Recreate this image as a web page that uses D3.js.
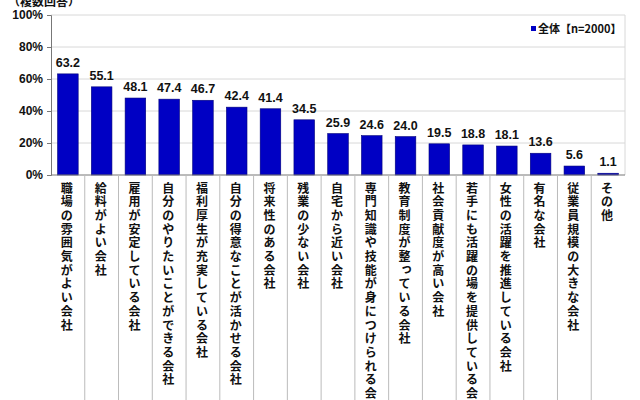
<!DOCTYPE html>
<html lang="ja">
<head>
<meta charset="UTF-8">
<script src="https://cdn.jsdelivr.net/npm/d3@7"></script>
<style>
    body { margin: 0; background: #fff; }
    text { font-family: "Liberation Sans", Arial, sans-serif; font-weight: bold; fill: #111; }
    .jp { font-family: "Noto Sans CJK JP", sans-serif; }
</style>
</head>
<body>
<svg id="chart" width="640" height="400"></svg>
<script>
    // data
    const categories = [
        "職場の雰囲気がよい会社", "給料がよい会社", "雇用が安定している会社",
        "自分のやりたいことができる会社", "福利厚生が充実している会社",
        "自分の得意なことが活かせる会社", "将来性のある会社", "残業の少ない会社",
        "自宅から近い会社", "専門知識や技能が身につけられる会社", "教育制度が整っている会社",
        "社会貢献度が高い会社", "若手にも活躍の場を提供している会社",
        "女性の活躍を推進している会社", "有名な会社", "従業員規模の大きな会社", "その他"
    ];
    const values = [63.2, 55.1, 48.1, 47.4, 46.7, 42.4, 41.4, 34.5, 25.9, 24.6, 24.0, 19.5, 18.8, 18.1, 13.6, 5.6, 1.1];
    const yTicks = [0, 20, 40, 60, 80, 100];
    const seriesName = "全体【n=2000】";

    const plotLeft = 51, plotRight = 625, plotTop = 15, plotBottom = 175;
    const charStep = 13.7;   // vertical spacing of label characters
    const svg = d3.select("#chart");

    const x = d3.scaleBand().domain(categories).range([plotLeft, plotRight]).paddingInner(0.39).paddingOuter(0.195);
    const xb = d3.scaleBand().domain(categories).range([plotLeft, plotRight]);
    const y = d3.scaleLinear().domain([0, 100]).range([plotBottom, plotTop]);

    // title (cut off at top like the original)
    svg.append("text").attr("class", "jp").attr("x", 8).attr("y", 6)
        .attr("font-size", 12).text("（複数回答）");

    // gridlines
    svg.selectAll(".grid").data(yTicks.slice(1)).enter().append("line")
        .attr("x1", plotLeft).attr("x2", plotRight)
        .attr("y1", d => y(d)).attr("y2", d => y(d))
        .attr("stroke", "#d8d8d8").attr("stroke-width", 1);
    svg.append("line").attr("x1", plotRight).attr("x2", plotRight).attr("y1", plotTop).attr("y2", plotBottom)
        .attr("stroke", "#d8d8d8");

    // y axis
    const yAxis = svg.append("g").attr("transform", `translate(${plotLeft},0)`)
        .call(d3.axisLeft(y).tickValues(yTicks).tickFormat(d => d + "%").tickSize(4).tickPadding(4));
    yAxis.select(".domain").attr("stroke", "#777");
    yAxis.selectAll(".tick line").attr("stroke", "#777");
    yAxis.selectAll("text").attr("font-size", 12).attr("font-family", "Liberation Sans, Arial, sans-serif")
        .attr("font-weight", "bold").attr("fill", "#111");

    // bars
    svg.selectAll(".bar").data(values).enter().append("rect")
        .attr("x", (d, i) => x(categories[i]))
        .attr("width", x.bandwidth())
        .attr("y", d => y(d))
        .attr("height", d => y(0) - y(d))
        .attr("fill", "#0000c4")
        .attr("stroke", "#00007a").attr("stroke-width", 0.6);

    // value labels
    svg.selectAll(".val").data(values).enter().append("text")
        .attr("x", (d, i) => x(categories[i]) + x.bandwidth() / 2)
        .attr("y", d => y(d) - 7)
        .attr("text-anchor", "middle").attr("font-size", 12.5)
        .text(d => d.toFixed(1));

    // x axis line and category dividers
    svg.append("line").attr("x1", plotLeft).attr("x2", plotRight).attr("y1", plotBottom).attr("y2", plotBottom)
        .attr("stroke", "#777");
    svg.selectAll(".div").data(categories.slice(1)).enter().append("line")
        .attr("x1", d => xb(d)).attr("x2", d => xb(d))
        .attr("y1", plotBottom).attr("y2", 400)
        .attr("stroke", "#bbb").attr("stroke-width", 1);

    // vertical category labels, one character per tspan
    const smallKana = "っゃゅょ";
    const labels = svg.selectAll(".cat").data(categories).enter().append("text")
        .attr("class", "jp")
        .attr("font-size", 12)
        .attr("text-anchor", "middle");
    labels.each(function (d) {
        const cx = xb(d) + xb.bandwidth() / 2 - 1;
        d3.select(this).selectAll("tspan").data(Array.from(d)).enter().append("tspan")
            .attr("x", c => cx + (smallKana.includes(c) ? 2 : 0))
            .attr("y", (c, i) => 188 + i * charStep + 4.5 - (smallKana.includes(c) ? 2 : 0))
            .text(c => c);
    });

    // legend
    svg.append("rect").attr("x", 531).attr("y", 26).attr("width", 5).attr("height", 5).attr("fill", "#0000c4");
    svg.append("text").attr("class", "jp").attr("x", 538).attr("y", 33)
        .attr("font-size", 11).text(seriesName);
</script>
</body>
</html>
